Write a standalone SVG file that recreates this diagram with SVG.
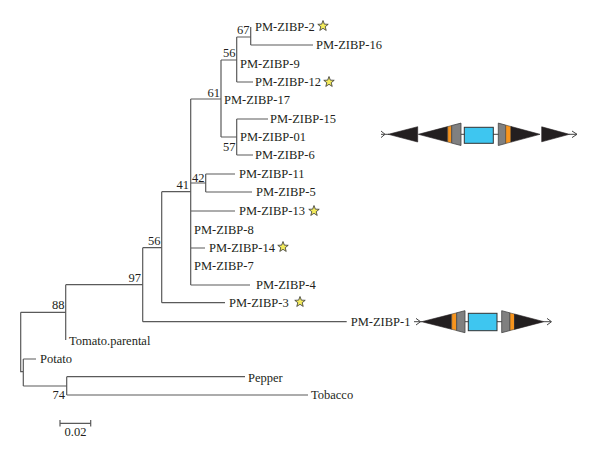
<svg xmlns="http://www.w3.org/2000/svg" xmlns:xlink="http://www.w3.org/1999/xlink" width="600" height="459" viewBox="0 0 600 459">
<style>
.t{font-family:"Liberation Serif","Times New Roman",serif;font-size:12.5px;fill:#231f20}
.b{font-family:"Liberation Serif","Times New Roman",serif;font-size:12.5px;fill:#231f20;text-anchor:end}
.ln{fill:none;stroke:#5a5a5a;stroke-width:1.2}
.blk{fill:#231f20;stroke:#231f20;stroke-width:0.6}
.org{fill:#f7941d;stroke:#444;stroke-width:0.6}
.gry{fill:#808080;stroke:#444;stroke-width:0.8}
.blu{fill:#3ec6f0;stroke:#333;stroke-width:1}
.cl{fill:none;stroke:#444;stroke-width:1}
.star{fill:#f4ec5c;stroke:#333;stroke-width:0.8}
</style>
<defs>
<path id="star" class="star" d="M0,-5.5 L1.35,-1.86 L5.23,-1.7 L2.19,0.71 L3.23,4.45 L0,2.3 L-3.23,4.45 L-2.19,0.71 L-5.23,-1.7 L-1.35,-1.86 Z"/>
</defs>
<rect width="600" height="459" fill="#ffffff"/>
<g id="connectors" class="ln">
<path d="M20.7,312.3V371.7H23.3 M20.7,312.3H65.7 M65.7,284.7V340 M65.7,284.7H142.7 M142.7,247.7V321.7 M142.7,321.7H346.7 M142.7,247.7H161.7 M161.7,191.7V302.7 M161.7,302.7H225 M161.7,191.7H190.7 M190.7,99V285 M190.7,99H221 M221,60V137 M221,60H236.7 M236.7,37V82 M236.7,37H250.7 M250.7,27V45 M250.7,45H313 M236.7,82H253 M221,137H236.7 M236.7,119V155 M236.7,119H268 M236.7,155H253 M190.7,183H205.7 M205.7,174V192 M205.7,174H235 M205.7,192H252 M190.7,211H235 M190.7,248H205 M190.7,285H250 M23.3,359V386 M23.3,359H36 M23.3,386H66.7 M66.7,376.7V395 M66.7,376.7H245 M66.7,395H308"/>
</g>
<g id="bootstrap">
<text class="b" x="249.5" y="34">67</text>
<text class="b" x="235.5" y="57">56</text>
<text class="b" x="220" y="96.5">61</text>
<text class="b" x="235.5" y="151">57</text>
<text class="b" x="204.5" y="181.5">42</text>
<text class="b" x="189" y="189">41</text>
<text class="b" x="160.5" y="245">56</text>
<text class="b" x="141" y="282.3">97</text>
<text class="b" x="64.5" y="309.3">88</text>
<text class="b" x="65" y="399">74</text>
</g>
<g id="leaf-PM-ZIBP-2"><text class="t" x="255" y="31">PM-ZIBP-2</text><use xlink:href="#star" x="323" y="26"/></g>
<g id="leaf-PM-ZIBP-16"><text class="t" x="316" y="49">PM-ZIBP-16</text></g>
<g id="leaf-PM-ZIBP-9"><text class="t" x="240" y="68">PM-ZIBP-9</text></g>
<g id="leaf-PM-ZIBP-12"><text class="t" x="255" y="86">PM-ZIBP-12</text><use xlink:href="#star" x="329" y="82"/></g>
<g id="leaf-PM-ZIBP-17"><text class="t" x="224" y="104">PM-ZIBP-17</text></g>
<g id="leaf-PM-ZIBP-15"><text class="t" x="270" y="123">PM-ZIBP-15</text></g>
<g id="leaf-PM-ZIBP-01"><text class="t" x="240" y="141">PM-ZIBP-01</text></g>
<g id="leaf-PM-ZIBP-6"><text class="t" x="255" y="159">PM-ZIBP-6</text></g>
<g id="leaf-PM-ZIBP-11"><text class="t" x="239" y="178">PM-ZIBP-11</text></g>
<g id="leaf-PM-ZIBP-5"><text class="t" x="256" y="196">PM-ZIBP-5</text></g>
<g id="leaf-PM-ZIBP-13"><text class="t" x="239" y="215">PM-ZIBP-13</text><use xlink:href="#star" x="314" y="211"/></g>
<g id="leaf-PM-ZIBP-8"><text class="t" x="194" y="234">PM-ZIBP-8</text></g>
<g id="leaf-PM-ZIBP-14"><text class="t" x="209" y="252">PM-ZIBP-14</text><use xlink:href="#star" x="283" y="247"/></g>
<g id="leaf-PM-ZIBP-7"><text class="t" x="194" y="270">PM-ZIBP-7</text></g>
<g id="leaf-PM-ZIBP-4"><text class="t" x="256" y="289">PM-ZIBP-4</text></g>
<g id="leaf-PM-ZIBP-3"><text class="t" x="229" y="307">PM-ZIBP-3</text><use xlink:href="#star" x="300" y="302"/></g>
<g id="leaf-PM-ZIBP-1"><text class="t" x="350.7" y="326">PM-ZIBP-1</text></g>
<g id="leaf-Tomato"><text class="t" x="69" y="344.5">Tomato.parental</text></g>
<g id="leaf-Potato"><text class="t" x="40" y="363">Potato</text></g>
<g id="leaf-Pepper"><text class="t" x="248" y="381.5">Pepper</text></g>
<g id="leaf-Tobacco"><text class="t" x="311" y="399.3">Tobacco</text></g>
<g id="scale">
<path class="ln" d="M60,423.3H90.7 M60,420V426.6 M90.7,420V426.6"/>
<text class="t" x="75.5" y="436" text-anchor="middle">0.02</text>
</g>
<g id="gene-structure-top">
<path class="cl" d="M381,131L385,134.3L381,137.6 M381,134.3H389 M461,134.3H465 M493,134.3H499 M569,134.3H577 M572,131L577,134.3L572,137.6"/>
<polygon class="blk" points="388.3,134.3 417.7,126.7 417.7,142"/>
<polygon class="blk" points="418.3,134.3 447.7,126.6 447.7,142"/>
<polygon class="org" points="447.7,126.6 451.7,125.5 451.7,143.1 447.7,142"/>
<polygon class="gry" points="451.7,125.5 461,123.1 461,145.5 451.7,143.1"/>
<rect class="blu" x="464.3" y="127.3" width="29" height="16"/>
<polygon class="gry" points="498.3,123.1 505.7,125.1 505.7,143.5 498.3,145.5"/>
<polygon class="org" points="505.7,125.1 511,126.5 511,142.1 505.7,143.5"/>
<polygon class="blk" points="511,126.5 540,134.3 511,142.1"/>
<polygon class="blk" points="541.7,126.8 569.3,134.3 541.7,141.8"/>
</g>
<g id="gene-structure-bottom">
<path class="cl" d="M414,321.7H422 M416,318.4L420.5,321.7L416,325 M465,321.7H469 M497,321.7H502 M544,321.7H551 M547,318.4L551.5,321.7L547,325"/>
<polygon class="blk" points="421.7,321.7 451.7,314.1 451.7,329.3"/>
<polygon class="org" points="451.7,314.1 456.7,312.8 456.7,330.6 451.7,329.3"/>
<polygon class="gry" points="456.7,312.8 465,310.7 465,332.7 456.7,330.6"/>
<rect class="blu" x="468.3" y="313.3" width="28.7" height="17.4"/>
<polygon class="gry" points="501.7,310.7 510,312.9 510,330.5 501.7,332.7"/>
<polygon class="org" points="510,312.9 514.5,314 514.5,329.4 510,330.5"/>
<polygon class="blk" points="514.5,314 544,321.7 514.5,329.4"/>
</g>
</svg>
